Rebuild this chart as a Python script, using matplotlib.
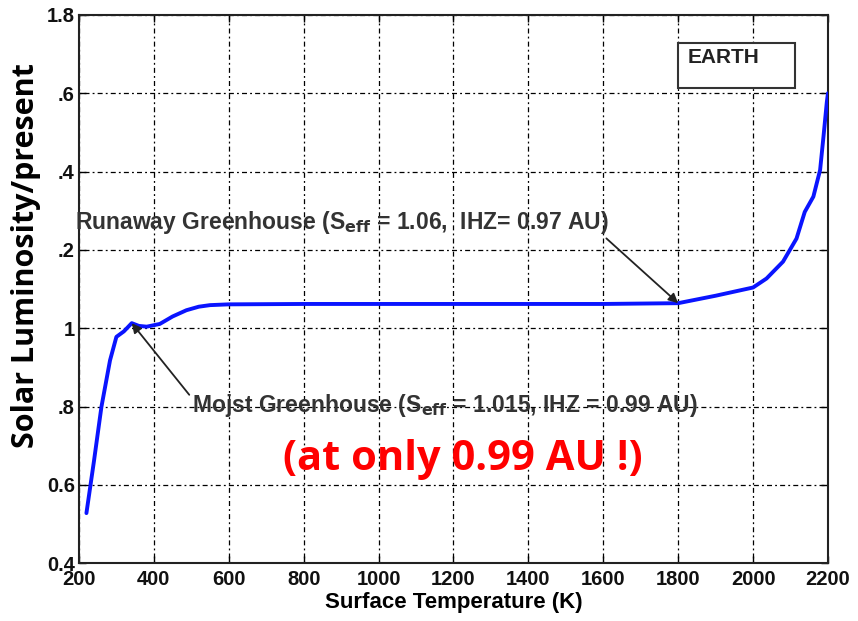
import matplotlib.pyplot as plt
from matplotlib.patches import Rectangle

# Surface temperature (K) vs. solar luminosity relative to present
temp_k = [220, 240, 260, 283, 300, 320, 341, 360, 381, 416, 450, 487, 520, 550,
          600, 800, 1000, 1200, 1400, 1600, 1800, 1900, 2000, 2036, 2080, 2116,
          2138, 2161, 2179, 2188, 2197, 2200]
lum = [0.528, 0.66, 0.799, 0.918, 0.978, 0.992, 1.013, 1.006, 1.004, 1.011, 1.03,
       1.046, 1.055, 1.059, 1.061, 1.062, 1.062, 1.062, 1.062, 1.062, 1.064, 1.083,
       1.104, 1.127, 1.170, 1.229, 1.297, 1.336, 1.404, 1.489, 1.578, 1.60]

xticks = list(range(200, 2201, 200))
yticks = [0.4, 0.6, 0.8, 1.0, 1.2, 1.4, 1.6, 1.8]
ytick_labels = ['0.4', '0.6', '.8', '1', '.2', '.4', '.6', '1.8']

runaway_pt = (1800, 1.064)
moist_pt = (341, 1.013)

fig = plt.figure(figsize=(8.58, 6.21), dpi=100)
ax = fig.add_axes([0.092, 0.093, 0.873, 0.883])

ax.plot(temp_k, lum, color='#0a14ff', lw=2.8, solid_capstyle='round', zorder=3)

ax.set_xlim(200, 2200)
ax.set_ylim(0.4, 1.8)
ax.set_xticks(xticks)
ax.set_yticks(yticks)
ax.set_xticklabels([str(t) for t in xticks])
ax.set_yticklabels(ytick_labels)
for lab in ax.get_xticklabels() + ax.get_yticklabels():
    lab.set_fontfamily('Liberation Sans')
    lab.set_fontweight('bold')
    lab.set_fontsize(14.5)
    lab.set_color('#111111')
ax.tick_params(direction='in', length=5, width=1, top=True, right=True)
ax.tick_params(axis='x', pad=5)
ax.tick_params(axis='y', pad=3)

ax.grid(True, color='black', linestyle=(0, (1.5, 2.5, 4, 2.5)), linewidth=0.9)
for s in ax.spines.values():
    s.set_linewidth(1.5)
    s.set_color('#222222')

ax.set_xlabel('Surface Temperature (K)', fontfamily='Liberation Sans',
              fontweight='bold', fontsize=16, labelpad=2)
ax.set_ylabel('Solar Luminosity/present', fontfamily='Open Sans',
              fontweight='bold', fontsize=22)
ax.yaxis.set_label_coords(-0.05, 0.562)

# annotations
ax.annotate('Runaway Greenhouse (S$_{\\mathbf{eff}}$ = 1.06,  IHZ= 0.97 AU)',
            xy=runaway_pt, xytext=(189, 1.271),
            fontfamily='Liberation Sans', fontweight='bold', fontsize=16.5,
            color='#333333', ha='left', va='center',
            arrowprops=dict(arrowstyle='-|>', color='#222222', lw=1.3,
                            shrinkA=0, shrinkB=0, mutation_scale=14,
                            relpos=(0.99, 0.0)))
ax.annotate('Mojst Greenhouse (S$_{\\mathbf{eff}}$ = 1.015, IHZ = 0.99 AU)',
            xy=moist_pt, xytext=(502, 0.804),
            fontfamily='Liberation Sans', fontweight='bold', fontsize=16.5,
            color='#333333', ha='left', va='center',
            arrowprops=dict(arrowstyle='-|>', color='#222222', lw=1.3,
                            shrinkA=0, shrinkB=0, mutation_scale=14,
                            relpos=(0.0, 0.75)))

ax.text(0.512, 0.19, '(at only 0.99 AU !)', transform=ax.transAxes,
        fontfamily='Open Sans', fontweight='bold', fontsize=30, color='#ff0000',
        ha='center', va='center')

ax.add_patch(Rectangle((0.800, 0.867), 0.156, 0.082, transform=ax.transAxes,
                       fc='white', ec='#333333', lw=1.5, zorder=4))
ax.text(0.813, 0.9215, 'EARTH', transform=ax.transAxes,
        fontfamily='Liberation Sans', fontweight='bold', fontsize=15,
        color='#222222', ha='left', va='center', zorder=5)

fig.savefig('out.png', dpi=100)
